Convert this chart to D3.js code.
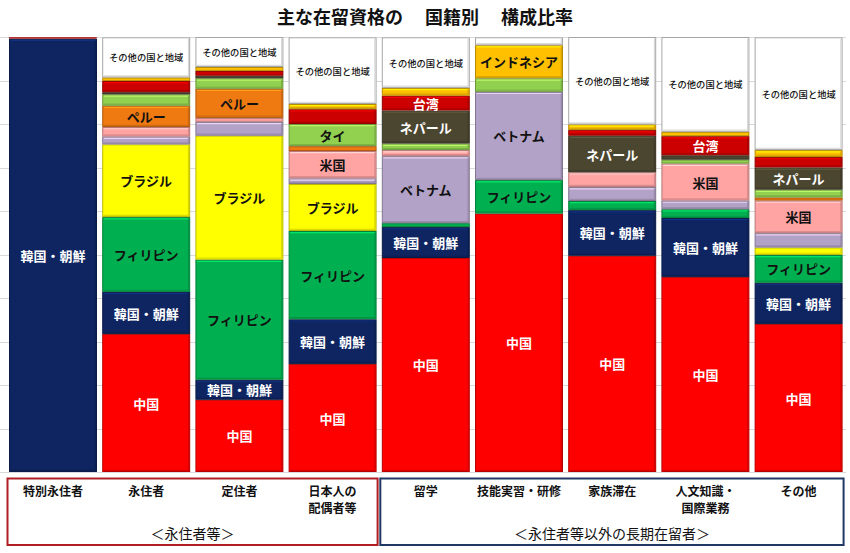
<!DOCTYPE html>
<html>
<head>
<meta charset="utf-8">
<script src="https://cdn.jsdelivr.net/npm/d3@7"></script>
<style>
  html, body { margin: 0; padding: 0; background: #fff; }
  svg { display: block; font-family: "Noto Sans CJK JP", "Noto Sans", sans-serif; }
</style>
</head>
<body>
<svg id="chart" width="850" height="553"></svg>
<script>
// ---- data ----
const categories = ["特別永住者","永住者","定住者","日本人の配偶者等","留学","技能実習・研修","家族滞在","人文知識・国際業務","その他"];
const categoryLines = [["特別永住者"],["永住者"],["定住者"],["日本人の","配偶者等"],["留学"],["技能実習・研修"],["家族滞在"],["人文知識・","国際業務"],["その他"]];
const groups = ["＜永住者等＞","＜永住者等以外の長期在留者＞"];
const groupSpans = [[0,3],[4,8]];

const seriesNames = ["中国","韓国・朝鮮","フィリピン","ブラジル","ベトナム","米国","ペルー","タイ","ネパール","台湾","インドネシア","その他の国と地域"];
const china      = [0,   31.7, 16.6, 24.8, 49.2, 59.4, 49.7, 44.8, 34.0];
const korea      = [99.6, 9.7,  4.6, 10.3,  7.1,  0,   10.5, 13.6,  9.5];
const philippines= [0,   17.2, 27.6, 20.3,  0.9,  7.7,  2.1,  2.0,  6.4];
const brazil     = [0,   16.7, 28.5, 10.8,  0,    0,    0,    0,    1.7];
const vietnam    = [0,    1.8,  3.2,  1.3, 15.4, 20.3,  3.2,  2.0,  3.3];
const usa        = [0,    2.2,  0.9,  6.3,  1.4,  0,    3.4,  8.5,  7.5];
const peru       = [0,    4.9,  6.7,  1.1,  0,    0,    0,    0,    0.7];
const thailand   = [0,    2.6,  2.4,  5.1,  1.5,  3.1,  0,    0.9,  1.8];
const nepal      = [0,    0.5,  0.6,  0,    7.6,  0,    8.4,  1.0,  5.1];
const taiwan     = [0.4,  2.6,  1.1,  3.4,  3.4,  0,    1.3,  4.4,  2.4];
const indonesia  = [0,    0.8,  0.9,  1.2,  1.8,  7.6,  1.3,  1.0,  1.6];
const others     = [0,    9.2,  6.9, 15.3, 11.6,  1.8, 20.1, 21.8, 25.9];
const seriesValues = [china, korea, philippines, brazil, vietnam, usa, peru, thailand, nepal, taiwan, indonesia, others];

const seriesColors = ["#FF0000","#0E2562","#00B050","#FFFF00","#B3A2C7","#FFA3A3","#F07A12","#92D050","#4B4630","#CC0000","#FFC000","#FFFFFF"];
const whiteText = ["中国","韓国・朝鮮","ネパール","台湾"];

const labeled = [
  ["韓国・朝鮮"],
  ["中国","韓国・朝鮮","フィリピン","ブラジル","ペルー","その他の国と地域"],
  ["中国","韓国・朝鮮","フィリピン","ブラジル","ペルー","その他の国と地域"],
  ["中国","韓国・朝鮮","フィリピン","ブラジル","米国","タイ","その他の国と地域"],
  ["中国","韓国・朝鮮","ベトナム","ネパール","台湾","その他の国と地域"],
  ["中国","フィリピン","ベトナム","インドネシア"],
  ["中国","韓国・朝鮮","ネパール","その他の国と地域"],
  ["中国","韓国・朝鮮","米国","台湾","その他の国と地域"],
  ["中国","韓国・朝鮮","フィリピン","米国","ネパール","その他の国と地域"]
];
const yTicks = [0,10,20,30,40,50,60,70,80,90,100];

// ---- build ----
const table = categories.map((c, i) => {
  const row = { category: c };
  seriesNames.forEach((s, j) => row[s] = seriesValues[j][i]);
  return row;
});

const svg = d3.select("#chart");
const x = d3.scaleBand().domain(categories).range([6.4, 845.2]).paddingInner(0.056).paddingOuter(0.028);
const y = d3.scaleLinear().domain([0, 100]).range([472, 37]);
const color = d3.scaleOrdinal().domain(seriesNames).range(seriesColors);

// title
svg.append("text")
  .attr("x", 425).attr("y", 24)
  .attr("text-anchor", "middle")
  .attr("font-size", 18).attr("font-weight", 700)
  .attr("fill", "#111")
  .style("white-space", "pre")
  .text("主な在留資格の　 国籍別　 構成比率");

// gridlines
svg.append("g").selectAll("line").data(yTicks).join("line")
  .attr("x1", 0).attr("x2", 846)
  .attr("y1", d => Math.round(y(d)) + 0.5).attr("y2", d => Math.round(y(d)) + 0.5)
  .attr("stroke", "#D9D9D9").attr("stroke-width", 1);

// stacked bars
const stack = d3.stack().keys(seriesNames);
const layers = stack(table);

const gBars = svg.append("g");
layers.forEach(layer => {
  const name = layer.key;
  const c = color(name);
  layer.forEach((d, i) => {
    const v = d[1] - d[0];
    if (v <= 0) return;
    const x0 = x(d.data.category), w = x.bandwidth();
    const yTop = y(d[1]), yBot = y(d[0]);
    const h = yBot - yTop;
    const g = gBars.append("g");
    const dark = d3.color(c).darker(name === "その他の国と地域" ? 1.2 : 0.9);
    g.append("rect")
      .attr("x", x0 + 0.5).attr("y", yTop + 0.5)
      .attr("width", w - 1).attr("height", Math.max(0.6, h - 1))
      .attr("fill", c)
      .attr("stroke", dark).attr("stroke-width", h > 2 ? 1 : 0.5);
    if (h > 5) {
      g.append("line")
        .attr("x1", x0 + 1.5).attr("x2", x0 + w - 1.5)
        .attr("y1", yTop + 1.7).attr("y2", yTop + 1.7)
        .attr("stroke", d3.color(c).brighter(0.9)).attr("stroke-width", 1.2)
        .attr("opacity", 0.8);
      g.append("line")
        .attr("x1", x0 + 1.5).attr("x2", x0 + w - 1.5)
        .attr("y1", yBot - 1.7).attr("y2", yBot - 1.7)
        .attr("stroke", d3.color(c).darker(0.5)).attr("stroke-width", 1.2)
        .attr("opacity", 0.8);
      g.append("line")
        .attr("x1", x0 + w - 1.7).attr("x2", x0 + w - 1.7)
        .attr("y1", yTop + 1.5).attr("y2", yBot - 1.5)
        .attr("stroke", d3.color(c).darker(0.6)).attr("stroke-width", 1.2)
        .attr("opacity", 0.8);
    }
    if (labeled[i].includes(name)) {
      const isOther = name === "その他の国と地域";
      g.append("text")
        .attr("x", x0 + w / 2).attr("y", (yTop + yBot) / 2)
        .attr("text-anchor", "middle").attr("dominant-baseline", "central")
        .attr("font-size", isOther ? 9.3 : 13)
        .attr("font-weight", isOther ? 500 : 700)
        .attr("fill", whiteText.includes(name) ? "#FFFFFF" : "#111")
        .text(name);
    }
  });
});

// category labels
const gCat = svg.append("g");
categories.forEach((c, i) => {
  const t = gCat.append("text")
    .attr("x", x(c) + x.bandwidth() / 2)
    .attr("y", 496)
    .attr("text-anchor", "middle")
    .attr("font-size", 12).attr("font-weight", 700).attr("fill", "#111");
  categoryLines[i].forEach((ln, k) => {
    t.append("tspan").attr("x", x(c) + x.bandwidth() / 2).attr("dy", k === 0 ? 0 : 16.5).text(ln);
  });
});

// group boxes
const groupColors = ["#B01E23", "#1F3864"];
groups.forEach((gname, gi) => {
  const [a, b] = groupSpans[gi];
  const left = x(categories[a]) - 1.5;
  const right = x(categories[b]) + x.bandwidth() + 1;
  svg.append("rect")
    .attr("x", left).attr("y", 478.5)
    .attr("width", right - left).attr("height", 66.5)
    .attr("fill", "none").attr("stroke", groupColors[gi]).attr("stroke-width", 2);
  svg.append("text")
    .attr("x", (left + right) / 2).attr("y", 539)
    .attr("text-anchor", "middle")
    .attr("font-size", 14).attr("font-weight", 400).attr("fill", "#111")
    .text(gname);
});
</script>
</body>
</html>
